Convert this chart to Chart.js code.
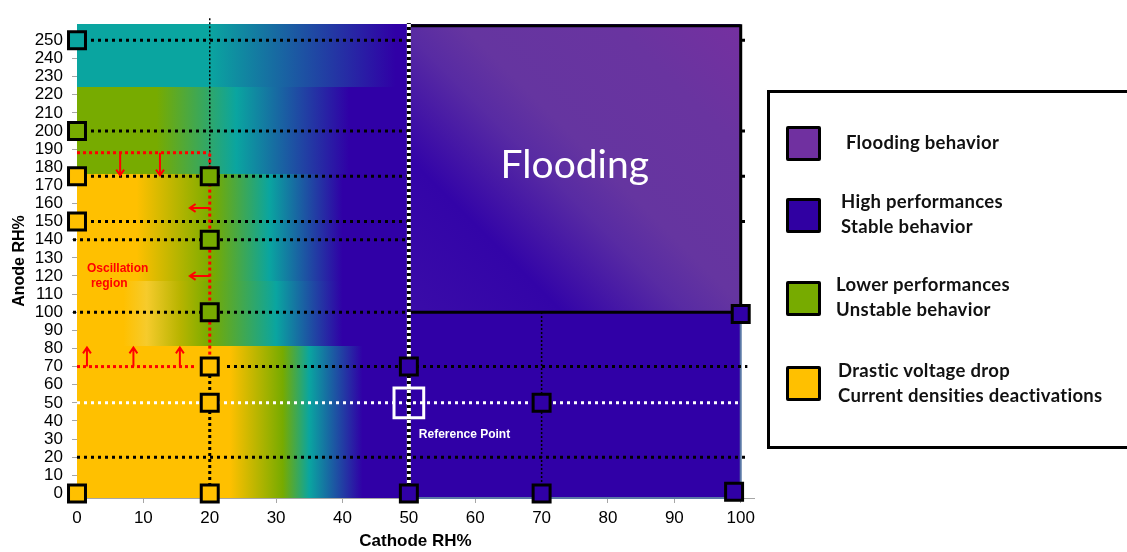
<!DOCTYPE html>
<html>
<head>
<meta charset="utf-8">
<script src="https://cdn.jsdelivr.net/npm/chart.js@4.4.1/dist/chart.umd.min.js"></script>
<style>
    html, body { margin: 0; padding: 0; background: #fff; }
    #wrap { position: relative; width: 1127px; height: 552px; overflow: hidden; }
    #legendBox { position: absolute; left: 767px; top: 90px; width: 420px; height: 359px;
        box-sizing: border-box; border: 3px solid #000; }
    .sw { position: absolute; left: 786px; width: 35px; height: 35px; box-sizing: border-box;
        border: 3px solid #000; border-radius: 2px; }
    .lt { position: absolute; font: bold 18.5px Lato, "Open Sans", sans-serif; line-height: 25px;
        letter-spacing: 0.3px; color: #111; white-space: nowrap; }
</style>
</head>
<body>
<div id="wrap">
    <canvas id="rhChart"></canvas>
    <div id="legendBox"></div>
    <div class="sw" style="top:126px;background:#7030a0"></div>
    <div class="lt" style="left:846px;top:130px">Flooding behavior</div>
    <div class="sw" style="top:198px;background:#3000a2"></div>
    <div class="lt" style="left:841px;top:189px">High performances<br>Stable behavior</div>
    <div class="sw" style="top:281px;background:#77ab00"></div>
    <div class="lt" style="left:836px;top:272px">Lower performances<br>Unstable behavior</div>
    <div class="sw" style="top:366px;background:#ffc000"></div>
    <div class="lt" style="left:838px;top:358px">Drastic voltage drop<br>Current densities deactivations</div>
</div>
<script>
"use strict";

// tick labels
var xTicks = [0, 10, 20, 30, 40, 50, 60, 70, 80, 90, 100];
var yTicks = [0, 10, 20, 30, 40, 50, 60, 70, 80, 90, 100, 110, 120, 130, 140, 150, 160, 170, 180, 190, 200, 210, 220, 230, 240, 250];

// tested points (cathode RH%, anode RH%) by behaviour
var tealX = [0];
var tealY = [250];
var greenX = [0, 20, 20, 20];
var greenY = [200, 175, 140, 100];
var yellowX = [0, 0, 0, 20, 20, 20];
var yellowY = [175, 150, 0, 70, 50, 0];
var blueX = [50, 50, 70, 70, 100, 99];
var blueY = [70, 0, 50, 0, 99, 1];
var refX = [50];
var refY = [50];

// dotted guide lines
var hLineY = [250, 200, 175, 150, 140, 100, 70, 20];
var hLineFrom = [0, 0, 0, 0, -0.6, -0.6, 22.6, 0];
var hLineTo = [101, 101, 101, 101, 50, 50, 101, 101];

// flooding zone outline
var floodX = [50, 100, 100];
var floodY = [258, 258, 100];

// background bands: anode RH range and colour stops along cathode RH
var bandFrom = [224, 176.5, 117, 81.5, -2.5];
var bandTo = [259, 224, 176.5, 117, 81.5];
var bandStops = [
    [[0, '#0aa5a0'], [20, '#0aa5a0'], [48, '#3000a6'], [100, '#3000a6']],
    [[0, '#77ab00'], [12, '#77ab00'], [24, '#0aa5a0'], [41, '#3000a6'], [100, '#3000a6']],
    [[0, '#ffc000'], [9, '#ffc000'], [20.5, '#77ab00'], [29, '#0aa5a0'], [40, '#3000a6'], [100, '#3000a6']],
    [[0, '#ffc000'], [7, '#ffc000'], [10.5, '#f6cb2c'], [15.5, '#b8b400'], [20, '#77ab00'], [30, '#0aa5a0'], [40, '#3000a6'], [100, '#3000a6']],
    [[0, '#ffc000'], [23, '#ffc000'], [31, '#77ab00'], [35, '#0aa5a0'], [43, '#3000a6'], [100, '#3000a6']]
];

// red oscillation arrows [x1, y1, x2, y2]
var arrowsList = [
    [6.5, 188, 6.5, 175.5], [12.5, 188, 12.5, 175.5],
    [1.5, 70, 1.5, 80.5], [8.5, 70, 8.5, 80.5], [15.5, 70, 15.5, 80.5],
    [20, 157.5, 17, 157.5], [20, 120, 17, 120]
];

function pts(xs, ys) {
    return xs.map(function(v, i) { return { x: v, y: ys[i] }; });
}

function marker(label, xs, ys, color) {
    return {
        label: label,
        data: pts(xs, ys),
        showLine: false,
        pointStyle: 'rect',
        pointRadius: 12,
        pointHoverRadius: 12,
        pointBackgroundColor: color,
        pointBorderColor: '#000',
        pointBorderWidth: 3,
        clip: false,
        order: 0
    };
}

function seg(xs, ys, color, width, dash, order) {
    return {
        data: pts(xs, ys),
        borderColor: color,
        borderWidth: width,
        borderDash: dash,
        pointRadius: 0,
        fill: false,
        tension: 0,
        clip: false,
        order: order
    };
}

var datasets = [
    marker('Teal', tealX, tealY, '#0aa5a0'),
    marker('Lower performances', greenX, greenY, '#77ab00'),
    marker('Drastic voltage drop', yellowX, yellowY, '#ffc000'),
    marker('High performances', blueX, blueY, '#3000a6'),
    {
        label: 'Reference Point',
        data: pts(refX, refY),
        showLine: false,
        pointStyle: 'rect',
        pointRadius: 21,
        pointBackgroundColor: 'rgba(0,0,0,0)',
        pointBorderColor: '#fff',
        pointBorderWidth: 3,
        clip: false,
        order: 1
    }
];

// horizontal black dotted lines
hLineY.forEach(function(v, i) {
    datasets.push(seg([hLineFrom[i], hLineTo[i]], [v, v], '#000', 3, [3, 4], 10));
});
// reference level (white)
datasets.push(seg([0, 100], [50, 50], '#fff', 3, [3, 4], 9));
// verticals
datasets.push(seg([20, 20], [175, 262.5], '#000', 1.5, [2, 2], 10));
datasets.push(seg([20, 20], [-2.5, 70], '#000', 3, [3, 3], 10));
datasets.push(seg([70, 70], [-2.5, 100], '#000', 1.5, [2, 2], 10));
// red oscillation lines
datasets.push(seg([20, 20], [70, 188], '#ff0000', 3, [3, 3], 8));
datasets.push(seg([0, 20], [188, 188], '#ff0000', 3, [3, 3], 8));
datasets.push(seg([0, 18], [70, 70], '#ff0000', 3, [3, 3], 8));

// flooding zone
var flooding = seg(floodX, floodY, '#000', 3, [], 6);
flooding.fill = { value: 100 };
flooding.backgroundColor = function(context) {
    var chart = context.chart;
    var xs = chart.scales.x, ys = chart.scales.y;
    if (!chart.chartArea || !xs || !ys) {
        return '#6030a0';
    }
    var x0 = xs.getPixelForValue(50), y0 = ys.getPixelForValue(100);
    var x1 = xs.getPixelForValue(100), y1 = ys.getPixelForValue(258);
    var len = ((x1 - x0) + (y0 - y1)) / 2;
    var g = chart.ctx.createLinearGradient(x0, y0, x0 + len, y0 - len);
    g.addColorStop(0, '#3a0ca8');
    g.addColorStop(0.25, '#3304a8');
    g.addColorStop(0.45, '#582ba3');
    g.addColorStop(0.55, '#6535a0');
    g.addColorStop(0.8, '#6934a0');
    g.addColorStop(1, '#7530a0');
    return g;
};
datasets.push(flooding);
datasets.push(seg([50, 100], [100, 100], '#000', 3, [], 5));
// x = 50 line (white with black dashes)
datasets.push(seg([50, 50], [-2.5, 259.5], '#fff', 4, [], 4));
datasets.push(seg([50, 50], [-2.5, 259.5], '#000', 4, [3, 3], 3));

var bandsPlugin = {
    id: 'bands',
    beforeDatasetsDraw: function(chart) {
        var ctx = chart.ctx, x = chart.scales.x, y = chart.scales.y;
        var x0 = x.getPixelForValue(0), x1 = x.getPixelForValue(100);
        ctx.save();
        bandStops.forEach(function(stops, i) {
            var top = Math.round(y.getPixelForValue(bandTo[i]));
            var bot = Math.round(y.getPixelForValue(bandFrom[i]));
            var g = ctx.createLinearGradient(x0, 0, x1, 0);
            stops.forEach(function(s) { g.addColorStop(s[0] / 100, s[1]); });
            ctx.fillStyle = g;
            ctx.fillRect(x0, top, x1 - x0, bot - top);
        });
        // thin edge of the lower right area
        ctx.strokeStyle = '#5a78a6';
        ctx.lineWidth = 2;
        ctx.beginPath();
        ctx.moveTo(x1, y.getPixelForValue(100));
        ctx.lineTo(x1, y.getPixelForValue(-2.5));
        ctx.lineTo(x.getPixelForValue(50), y.getPixelForValue(-2.5));
        ctx.stroke();
        ctx.restore();
    }
};

var notesPlugin = {
    id: 'notes',
    afterDatasetsDraw: function(chart) {
        var ctx = chart.ctx, x = chart.scales.x, y = chart.scales.y;
        ctx.save();
        // arrows
        ctx.strokeStyle = '#ff0000';
        ctx.lineWidth = 2;
        arrowsList.forEach(function(a) {
            var px1 = x.getPixelForValue(a[0]), py1 = y.getPixelForValue(a[1]);
            var px2 = x.getPixelForValue(a[2]), py2 = y.getPixelForValue(a[3]);
            var ang = Math.atan2(py2 - py1, px2 - px1);
            ctx.beginPath();
            ctx.moveTo(px1, py1);
            ctx.lineTo(px2, py2);
            ctx.moveTo(px2 - 7 * Math.cos(ang - 0.6), py2 - 7 * Math.sin(ang - 0.6));
            ctx.lineTo(px2, py2);
            ctx.lineTo(px2 - 7 * Math.cos(ang + 0.6), py2 - 7 * Math.sin(ang + 0.6));
            ctx.stroke();
        });
        // texts
        ctx.textBaseline = 'alphabetic';
        ctx.fillStyle = '#fff';
        ctx.textAlign = 'center';
        ctx.font = '39px Lato, "Open Sans", sans-serif';
        ctx.fillText('Flooding', x.getPixelForValue(75), y.getPixelForValue(174));
        ctx.textAlign = 'left';
        ctx.font = 'bold 12px "Liberation Sans", Arial, sans-serif';
        ctx.fillText('Reference Point', x.getPixelForValue(51.5), y.getPixelForValue(30.4));
        ctx.fillStyle = '#ff0000';
        ctx.fillText('Oscillation', x.getPixelForValue(1.5), y.getPixelForValue(122.3));
        ctx.fillText('region', x.getPixelForValue(2.1), y.getPixelForValue(114));
        ctx.restore();
    }
};

var ctx = document.getElementById('rhChart').getContext('2d');
var myChart = new Chart(ctx, {
    type: 'line',
    data: { datasets: datasets },
    options: {
        responsive: true,
        maintainAspectRatio: false,
        animation: false,
        events: [],
        layout: {
            padding: { left: 0, right: 373, top: 16, bottom: 0 }
        },
        plugins: {
            legend: { display: false },
            tooltip: { enabled: false }
        },
        scales: {
            x: {
                type: 'linear',
                min: 0,
                max: 102,
                afterBuildTicks: function(scale) {
                    scale.ticks = xTicks.map(function(v) { return { value: v }; });
                },
                afterFit: function(scale) { scale.height = 54; },
                grid: { drawOnChartArea: false, tickLength: 5, color: '#a6a6a6' },
                border: { color: '#a6a6a6' },
                ticks: {
                    color: '#000',
                    padding: 5,
                    autoSkip: false,
                    maxRotation: 0,
                    font: { family: '"Liberation Sans", Arial, sans-serif', size: 17 }
                },
                title: {
                    display: true,
                    text: 'Cathode RH%',
                    color: '#000',
                    padding: { top: 0, bottom: 0 },
                    font: { family: '"Liberation Sans", Arial, sans-serif', size: 17, weight: 'bold' }
                }
            },
            y: {
                type: 'linear',
                min: -2.5,
                max: 259,
                afterBuildTicks: function(scale) {
                    scale.ticks = yTicks.map(function(v) { return { value: v }; });
                },
                afterFit: function(scale) { scale.width = 77; },
                grid: { drawOnChartArea: false, tickLength: 5, color: '#a6a6a6' },
                border: { color: '#a6a6a6' },
                ticks: {
                    color: '#000',
                    padding: 9,
                    autoSkip: false,
                    font: { family: '"Liberation Sans", Arial, sans-serif', size: 17 }
                },
                title: {
                    display: true,
                    text: 'Anode RH%',
                    color: '#000',
                    padding: { top: 10, bottom: 0 },
                    font: { family: '"Liberation Sans", Arial, sans-serif', size: 16, weight: 'bold' }
                }
            }
        }
    },
    plugins: [bandsPlugin, notesPlugin]
});
</script>
</body>
</html>
